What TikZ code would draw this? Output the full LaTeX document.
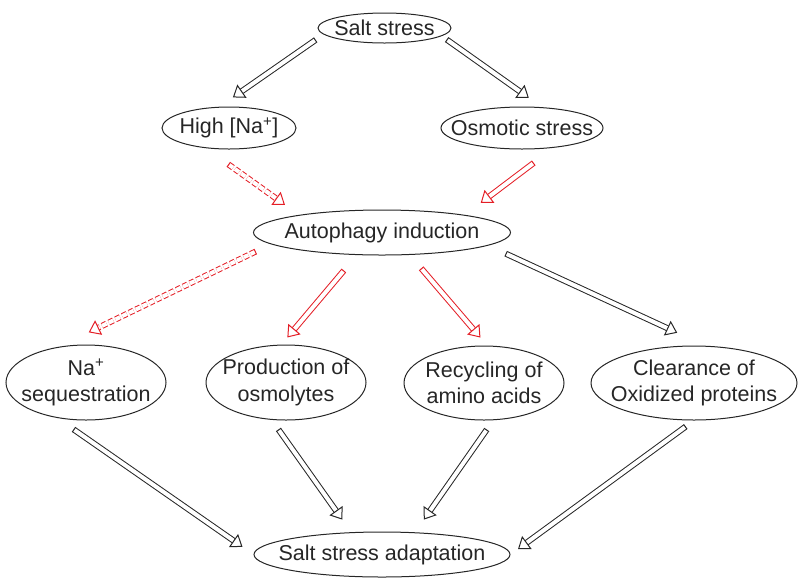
\documentclass[tikz,border=0pt]{standalone}
\usepackage{fontspec}
\setsansfont{Liberation Sans}
\usepackage{tikz}
\usetikzlibrary{arrows.meta,shapes.geometric}

\definecolor{inkred}{RGB}{228,30,38}
\definecolor{inkdark}{RGB}{38,38,38}

\begin{document}
\begin{tikzpicture}[
  x=1pt, y=-1pt,
  font=\sffamily\fontsize{21.5}{26.5}\selectfont,
  oval/.style={draw=inkdark, ellipse, line width=1pt, inner sep=0pt},
  every label/.style={align=center, text=inkdark, inner sep=0pt},
  arr/.style={double, double distance=4pt, line width=1pt, draw=#1,
    {Bar[width=6pt, line width=1pt]}-{Triangle[open, length=11pt, width=16pt, line width=1pt]}},
  arr/.default=inkdark,
  weak/.style={arr=inkred, dash pattern=on 5pt off 2.5pt},
]
\useasboundingbox (0,0) rectangle (800,582);

% ---- stress ----
\node[oval, minimum width=133pt, minimum height=30pt, label={center:Salt stress}] (salt) at (384.5,28) {};
\node[oval, minimum width=134pt, minimum height=42pt, label={center:High [Na\textsuperscript{+}]}] (high) at (229,128) {};
\node[oval, minimum width=162pt, minimum height=42pt, label={center:Osmotic stress}] (osm) at (522,128) {};

% ---- autophagy ----
\node[oval, minimum width=257pt, minimum height=45pt, label={center:Autophagy induction}] (auto) at (382,232.5) {};

% ---- responses ----
\node[oval, minimum width=160pt, minimum height=75pt, label={center:{Na\textsuperscript{+}\\sequestration}}] (seq) at (86,382.5) {};
\node[oval, minimum width=160pt, minimum height=75pt, label={center:{Production of\\osmolytes}}] (prod) at (286,382.5) {};
\node[oval, minimum width=160pt, minimum height=74pt, label={center:{Recycling of\\amino acids}}] (recyc) at (484,383) {};
\node[oval, minimum width=206pt, minimum height=74pt, label={center:{Clearance of\\Oxidized proteins}}] (clear) at (694,383) {};

% ---- adaptation ----
\node[oval, minimum width=256pt, minimum height=45pt, label={center:Salt stress adaptation}] (adapt) at (382,554.5) {};

% ---- salt stress -> stresses ----
\draw[arr, shorten <=9.5pt, shorten >=16.3pt] (salt.186.3) -- (high.114.4);
\draw[arr, shorten <=6pt, shorten >=16.3pt] (salt.352.6) -- (osm.46.7);
% ---- stresses -> autophagy ----
\draw[weak, shorten <=27.7pt, shorten >=17.4pt] (high.221.3) -- (auto.168);
\draw[arr=inkred, shorten <=25pt, shorten >=19.8pt] (osm.328.2) -- (auto.12.9);
% ---- autophagy -> responses ----
\draw[weak, shorten <=16.8pt, shorten >=33pt] (auto.186.5) -- (seq.127.1);
\draw[arr=inkred, shorten <=20.2pt, shorten >=9.3pt] (auto.222.8) -- (prod.97.6);
\draw[arr=inkred, shorten <=17.6pt, shorten >=10.5pt] (auto.321.5) -- (recyc.85.7);
\draw[arr, shorten <=19.2pt, shorten >=31pt] (auto.353.5) -- (clear.73.3);
% ---- responses -> adaptation ----
\draw[arr, shorten <=19.8pt, shorten >=13.4pt] (seq.231.2) -- (adapt.180.5);
\draw[arr, shorten <=11.7pt, shorten >=15.4pt] (prod.249.6) -- (adapt.144);
\draw[arr, shorten <=11.3pt, shorten >=15.5pt] (recyc.284.5) -- (adapt.34.2);
\draw[arr, shorten <=10.2pt, shorten >=9.3pt] (clear.270) -- (adapt.0.9);
\end{tikzpicture}
\end{document}
